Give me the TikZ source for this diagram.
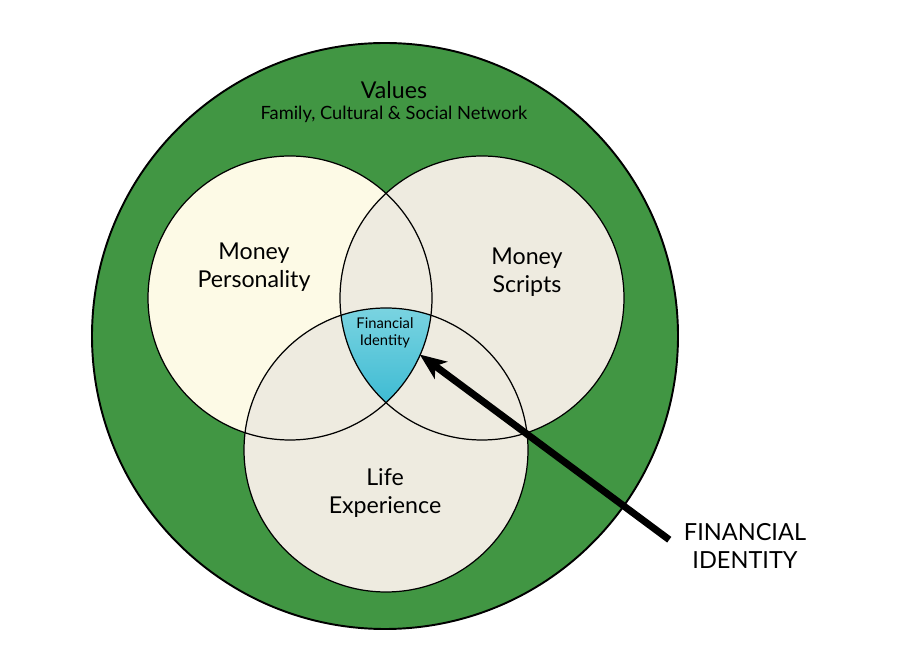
\documentclass[tikz,border=0pt]{standalone}
\usepackage{fontspec}
\setmainfont{Lato}
\usetikzlibrary{arrows.meta}
\definecolor{valuegreen}{HTML}{419643}
\definecolor{persona}{HTML}{FDFAE6}
\definecolor{scripts}{HTML}{EEEBE0}
\definecolor{idtop}{HTML}{7BD4E1}
\definecolor{idbottom}{HTML}{3EBBD3}
\begin{document}
\begin{tikzpicture}[
  x = 0.02cm, y = 0.02cm,
  rim/.style = {draw = black, line width = 0.7pt},
  settext/.style = {font = \fontsize{13.2}{15.6}\selectfont, align = center},
  small/.style = {font = \fontsize{8.4}{9.8}\selectfont, align = center},
  pointer/.style = {line width = 4pt, shorten <= 6pt,
                    -{Stealth[length = 15pt, width = 12pt, inset = 4pt]}},
  ]
  \useasboundingbox (0,0) rectangle (900,-671);
  % centres of the sets
  \coordinate (values) at (385,-336);
  \coordinate (mp) at (290,-298);
  \coordinate (ms) at (482,-298);
  \coordinate (le) at (386,-450);

  \filldraw[fill = valuegreen, draw = black, line width = 1.1pt]
    (values) circle [radius = 293];
  \fill[persona] (mp) circle [radius = 142];
  \fill[scripts] (ms) circle [radius = 142];
  \fill[scripts] (le) circle [radius = 142];
  \begin{scope}
    \clip (mp) circle [radius = 142];
    \clip (ms) circle [radius = 142];
    \clip (le) circle [radius = 142];
    \shade[top color = idtop, bottom color = idbottom]
      (338,-306) rectangle (434,-404);
  \end{scope}
  \draw[rim] (mp) circle [radius = 142];
  \draw[rim] (ms) circle [radius = 142];
  \draw[rim] (le) circle [radius = 142];

  \node[settext] (valtitle) at (394,-90) {Values};
  \node[font = \fontsize{10.4}{12}\selectfont] (network) at (394,-114)
    {Family, Cultural \& Social Network};
  \node[settext] (mptext) at (254,-267) {Money\\Personality};
  \node[settext] (mstext) at (527,-272) {Money\\Scripts};
  \node[settext] (letext) at (385,-493) {Life\\Experience};
  \node[small] (fi) at (385,-333) {Financial\\Identity};
  \node[settext, font = \fontsize{13.4}{16}\selectfont] (fid) at (745,-546)
    {FINANCIAL\\IDENTITY};

  \draw[pointer] (fid.west) -- (fi.south east);
\end{tikzpicture}
\end{document}
